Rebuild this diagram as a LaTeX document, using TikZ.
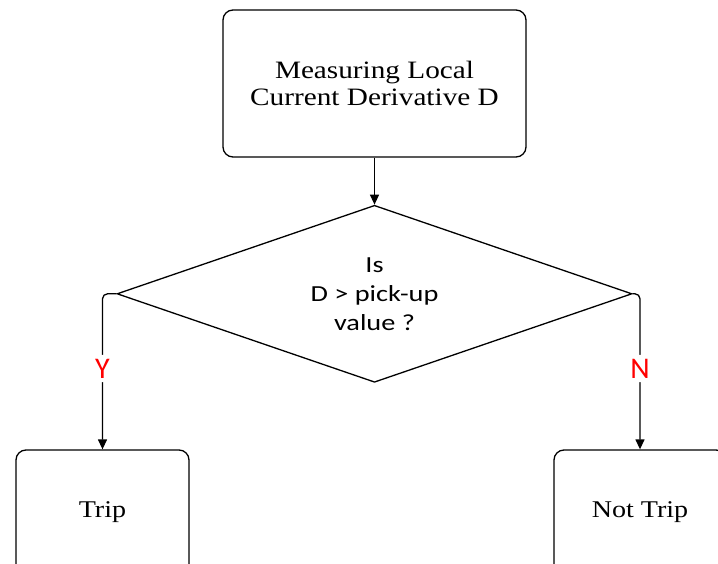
\documentclass[tikz,border=0pt]{standalone}
\usepackage{fontspec}
\setmainfont[FakeStretch=1.17]{Liberation Serif}
\newfontfamily\calibrifont[FakeStretch=1.23]{Carlito}
\newfontfamily\answerfont{Carlito}
\usepackage{tikz}
\usetikzlibrary{shapes.geometric, arrows.meta, positioning}
\definecolor{AnswerRed}{HTML}{FF0000}
\tikzstyle{block} = [rectangle, draw=black, fill=white, rounded corners=10pt, line width=1.3pt, text centered, align=center, font=\fontsize{25}{27}\selectfont]
\tikzstyle{decision} = [diamond, draw=black, fill=white, aspect=2.9, inner sep=0pt, minimum width=515pt, minimum height=177pt, line width=1.3pt, align=center, font=\calibrifont\fontsize{23}{29}\selectfont]
\tikzstyle{arrow} = [line width=1.3pt, -{Triangle[width=9pt,length=10pt]}, rounded corners=5pt]
\tikzstyle{answer} = [fill=white, text=AnswerRed, inner sep=4pt, font=\answerfont\fontsize{30}{30}\selectfont]

\begin{document}
\begin{tikzpicture}[x=1pt, y=-1pt]
        \path[use as bounding box, clip] (0,0) rectangle (718,564);

        % Steps
        \node [block, minimum width=303pt, minimum height=147pt] (measure) at (374.5,83.5) {Measuring Local\\Current Derivative D};
        \node [decision, below=47pt of measure] (check) {Is\\D > pick-up\\value ?};
        \node [block, minimum width=173pt, minimum height=124pt, font=\fontsize{24}{24}\selectfont] (trip) at (102.5,512) {Trip};
        \node [block, minimum width=172pt, minimum height=124pt, font=\fontsize{24}{24}\selectfont] (notrip) at (640,512) {Not Trip};

        % Flow
        \draw [arrow] (measure) -- (check);
        \draw [arrow] (check.west) -| node [answer, pos=0.74] {Y} (trip.north);
        \draw [arrow] (check.east) -| node [answer, pos=0.74] {N} (notrip.north);
    \end{tikzpicture}
\end{document}
